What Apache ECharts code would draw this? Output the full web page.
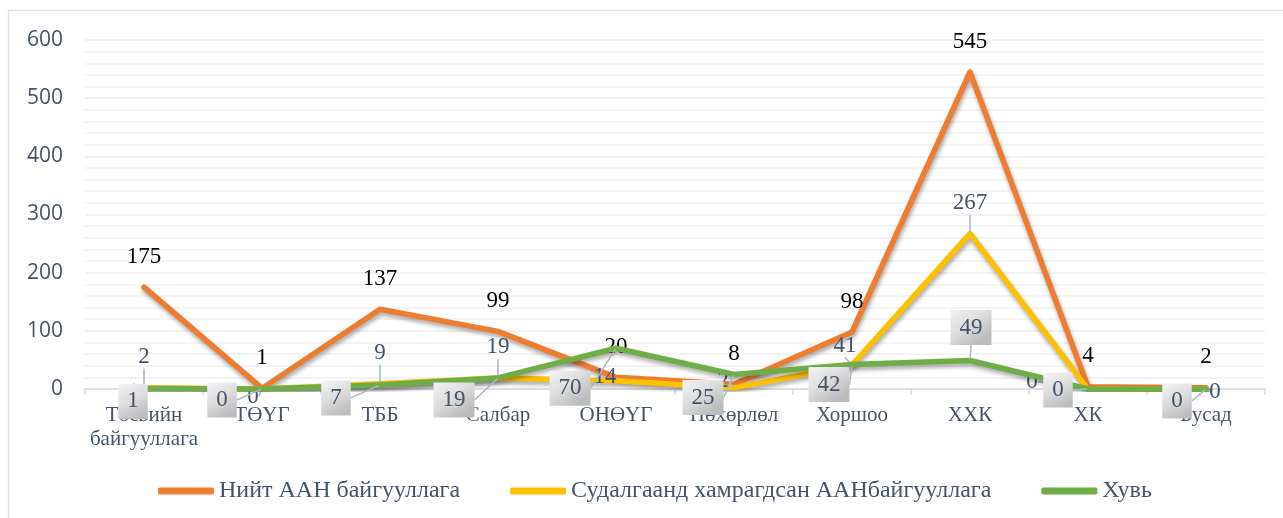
<!DOCTYPE html>
<html><head><meta charset="utf-8">
<script src="https://cdn.jsdelivr.net/npm/echarts@6/dist/echarts.min.js"></script>
<style>html,body{margin:0;padding:0;background:#fff}#c{width:1283px;height:518px}</style>
</head><body><div id="c"></div>
<script>
// ---- data ----
const categories = ["Төсвийн\nбайгууллага", "ТӨҮГ", "ТББ", "Салбар", "ОНӨҮГ", "Нөхөрлөл", "Хоршоо", "ХХК", "ХК", "Бусад"];
const seriesNames = ["Нийт ААН байгууллага", "Судалгаанд хамрагдсан ААНбайгууллага", "Хувь"];
const totalOrgs = [175, 1, 137, 99, 20, 8, 98, 545, 4, 2];
const surveyedOrgs = [2, 0, 9, 19, 14, 2, 41, 267, 0, 0];
const share = [1, 0, 7, 19, 70, 25, 42, 49, 0, 0];
const yTicks = [0, 100, 200, 300, 400, 500, 600];

// ---- label layout (manual label moves, as in the source) ----
const surveyedLabelShift = [[0,0],[-9,38],[0,0],[0,0],[-11,27],[-11,24],[-7,11],[0,0],[-56,23],[9,33]];
const shareLabelShift = [[-11,13],[-40,11],[-44,13],[-44,22],[-46,40],[-31,23],[-23,20],[1,-33],[-30,1],[-29,12]];

const slate = '#44546A';
const serif = '"Liberation Serif","DejaVu Serif",serif';
const shadow = {shadowColor:'rgba(0,0,0,0.35)', shadowBlur:4, shadowOffsetY:3, shadowOffsetX:1};

const chart = echarts.init(document.getElementById('c'));
chart.setOption({
  animation:false,
  graphic:[{type:'rect', shape:{x:8.5,y:10.5,width:1290,height:530}, style:{fill:'none', stroke:'#dde3ea', lineWidth:1.5}, silent:true, z:-1}],
  grid:{left:85, right:18, top:40, bottom:129},
  legend:{
    bottom:10, left:153, itemWidth:56, itemHeight:7, itemGap:50, icon:'roundRect',
    textStyle:{fontFamily:serif, fontSize:24, color:slate},
    data:seriesNames
  },
  xAxis:{
    type:'category', data:categories, boundaryGap:true,
    axisLine:{lineStyle:{color:'#d9d9d9', width:1.5}},
    axisTick:{show:true, length:6, lineStyle:{color:'#d9d9d9', width:1.5}},
    axisLabel:{fontFamily:serif, fontSize:21, color:slate, margin:14, lineHeight:24, interval:0}
  },
  yAxis:{
    type:'value', min:yTicks[0], max:yTicks[yTicks.length-1], interval:100,
    axisLine:{show:false}, axisTick:{show:false},
    axisLabel:{fontFamily:'"Open Sans",Lato,sans-serif', fontSize:21, color:slate, margin:22},
    splitLine:{lineStyle:{color:'#eeeeee', width:1.5}},
    minorTick:{show:false, splitNumber:5},
    minorSplitLine:{show:true, lineStyle:{color:'#f1f1f1', width:1.5}}
  },
  series:[
    {
      name:seriesNames[0], type:'line', data:totalOrgs, z:2,
      symbol:'circle', symbolSize:2, showSymbol:true,
      lineStyle:Object.assign({color:'#ED7D31', width:5.5, cap:'round', join:'round'}, shadow),
      itemStyle:{color:'#ED7D31'},
      label:{show:true, position:'top', distance:18, fontFamily:serif, fontSize:23, color:'#000'}
    },
    {
      name:seriesNames[1], type:'line', data:surveyedOrgs, z:3,
      symbol:'circle', symbolSize:2, showSymbol:true,
      lineStyle:Object.assign({color:'#FFC000', width:5.5, cap:'round', join:'round'}, shadow),
      itemStyle:{color:'#FFC000'},
      label:{show:true, position:'top', distance:18, fontFamily:serif, fontSize:23, color:slate},
      labelLine:{show:true, lineStyle:{color:'#a9b6c6', width:1.5}},
      labelLayout:function(p){ const s = surveyedLabelShift[p.dataIndex]; return {dx:s[0], dy:s[1]}; }
    },
    {
      name:seriesNames[2], type:'line', data:share, z:4,
      symbol:'circle', symbolSize:2, showSymbol:true,
      lineStyle:Object.assign({color:'#70AD47', width:5.5, cap:'round', join:'round'}, shadow),
      itemStyle:{color:'#70AD47'},
      label:{
        show:true, position:'inside', fontFamily:serif, fontSize:23, color:slate, lineHeight:24,
        padding:[6,9,5,9],
        backgroundColor:{type:'linear', x:0, y:0, x2:0.6, y2:1, colorStops:[{offset:0,color:'#f4f4f4'},{offset:0.5,color:'#dedede'},{offset:1,color:'#bdbdbd'}]}
      },
      labelLine:{show:true, lineStyle:{color:'#a9b6c6', width:1.5}},
      labelLayout:function(p){ const s = shareLabelShift[p.dataIndex]; return {dx:s[0], dy:s[1]}; }
    }
  ]
});
</script></body></html>
